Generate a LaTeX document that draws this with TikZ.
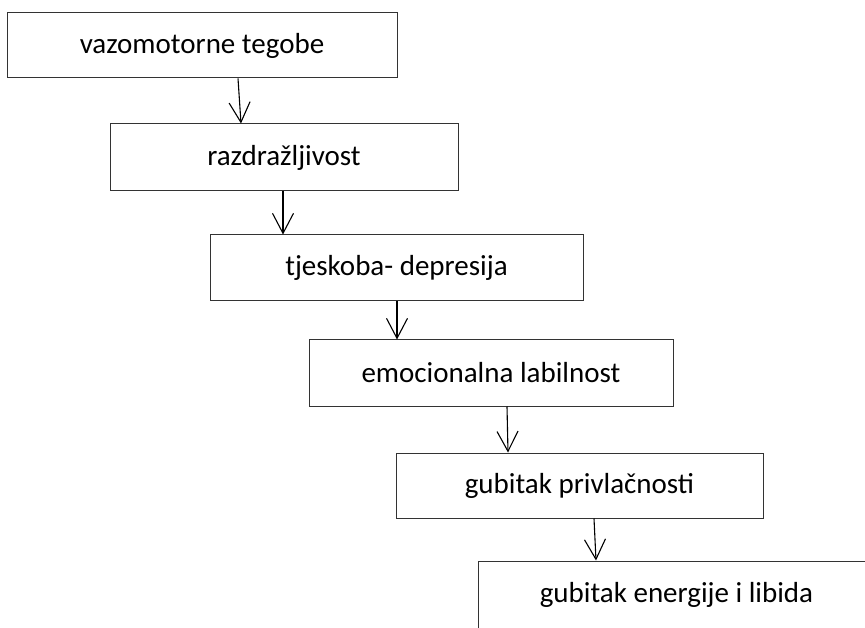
\documentclass[tikz,border=0pt]{standalone}
\usepackage{fontspec}
\setmainfont{Carlito}
\usetikzlibrary{arrows.meta}
\begin{document}
\begin{tikzpicture}[x=1pt,y=-1pt,
  box/.style={draw=black!80,line width=1pt,rectangle,inner sep=0pt,
    font=\fontsize{29}{34}\selectfont,text=black},
  arr/.style={draw=black,line width=1.1pt,
    -{Straight Barb[length=20pt,width=21pt,line width=1.1pt]}}]
\useasboundingbox (0,0) rectangle (865,628);
\clip (0,0) rectangle (865,628);
\node[box,minimum width=390pt,minimum height=65pt] (b1) at (202,45.5) {vazomotorne tegobe};
\node[box,minimum width=348pt,minimum height=67pt] (b2) at (284,157.5) {razdražljivost};
\node[box,minimum width=373pt,minimum height=66pt] (b3) at (396.5,268) {tjeskoba- depresija};
\node[box,minimum width=364pt,minimum height=66pt] (b4) at (491,373) {emocionalna labilnost};
\node[box,minimum width=367pt,minimum height=65pt] (b5) at (579.5,485.5) {gubitak privlačnosti};
\node[box,minimum width=397pt,minimum height=68pt] (b6) at (676.5,595) {gubitak energije i libida};
\draw[arr] ([xshift=36pt]b1.south) -- ([xshift=-43pt]b2.north);
\draw[arr] ([xshift=-1pt]b2.south) -- ([xshift=-113.5pt]b3.north);
\draw[arr] ([xshift=0.5pt]b3.south) -- ([xshift=-94pt]b4.north);
\draw[arr] ([xshift=16pt]b4.south) -- ([xshift=-71.5pt]b5.north);
\draw[arr] ([xshift=14.5pt]b5.south) -- ([xshift=-80.5pt]b6.north);
\end{tikzpicture}
\end{document}
